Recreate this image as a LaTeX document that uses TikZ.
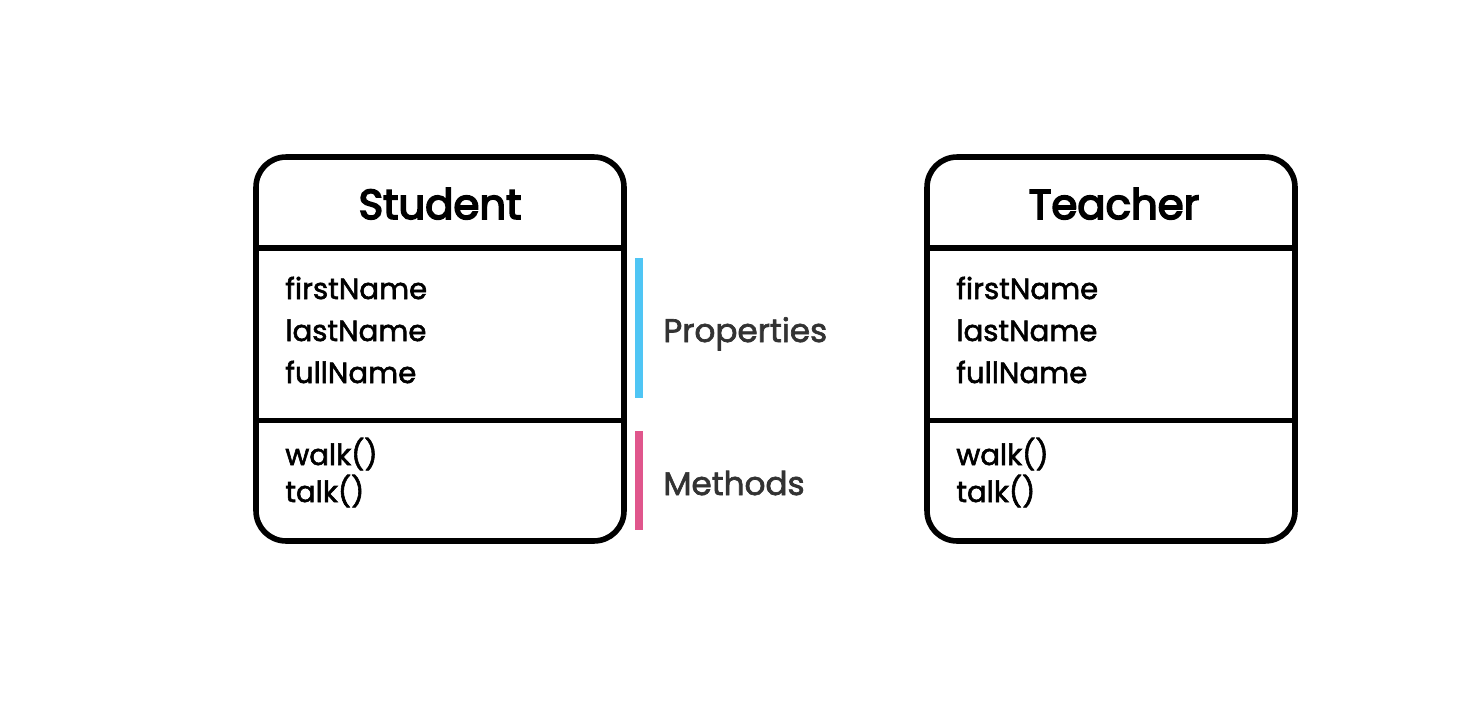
\documentclass[tikz,border=0pt]{standalone}
\usepackage{fontspec}
\setmainfont{Poppins}
\usetikzlibrary{positioning,calc}
\definecolor{PropBlue}{RGB}{79,197,244}
\definecolor{MethPink}{RGB}{224,86,140}
\definecolor{LabelGray}{RGB}{51,51,51}

\begin{document}
\begin{tikzpicture}[
    x=0.02cm, y=-0.02cm,
    classbox/.style={rectangle, rounded corners=0.6cm, draw=black, line width=3.2pt,
                minimum width=7.36cm, minimum height=7.68cm, inner sep=0pt},
    divline/.style={line width=3.2pt, color=black},
    title/.style={font=\fontsize{23.8}{28}\selectfont\addfontfeature{FakeBold=4}, anchor=base},
    member/.style={font=\fontsize{16.6}{20}\selectfont\addfontfeature{FakeBold=2}, anchor=base west, inner sep=0pt},
    tag/.style={font=\fontsize{18.6}{22}\selectfont\addfontfeature{FakeBold=2}, text=LabelGray, anchor=base west, inner sep=0pt},
    bar/.style={line width=4.5pt, color=#1},
]

\useasboundingbox (0,0) rectangle (1473,713);

% ── Class boxes ──
\node[classbox] (student) at (440,349) {};
\node[classbox] (teacher) at (1111,349) {};

% ── Compartment dividers ──
\foreach \cls in {student,teacher} {
    \draw[divline] (\cls.west |- 0,248) -- (\cls.east |- 0,248);
    \draw[divline] (\cls.west |- 0,420.5) -- (\cls.east |- 0,420.5);
}

% ── Class names ──
\node[title] (studentname) at (440,219) {Student};
\node[title] (teachername) at (1114,219) {Teacher};

% ── Properties and methods ──
\foreach \cls/\xx in {student/285,teacher/956} {
    \node[member] (\cls first) at (\xx,299) {firstName};
    \node[member] (\cls last)  at (\xx,341) {lastName};
    \node[member] (\cls full)  at (\xx,383) {fullName};
    \node[member] (\cls walk)  at (\xx,465) {walk()};
    \node[member] (\cls talk)  at (\xx,502) {talk()};
}

% ── Compartment markers ──
\coordinate (proptop) at (639,258);
\coordinate (propbot) at (639,398);
\coordinate (methtop) at (639,431);
\coordinate (methbot) at (639,530);
\draw[bar=PropBlue] (proptop) -- (propbot);
\draw[bar=MethPink] (methtop) -- (methbot);

\node[tag] (props) at (663,342) {Properties};
\node[tag] (meths) at (663,495) {Methods};

\end{tikzpicture}
\end{document}
